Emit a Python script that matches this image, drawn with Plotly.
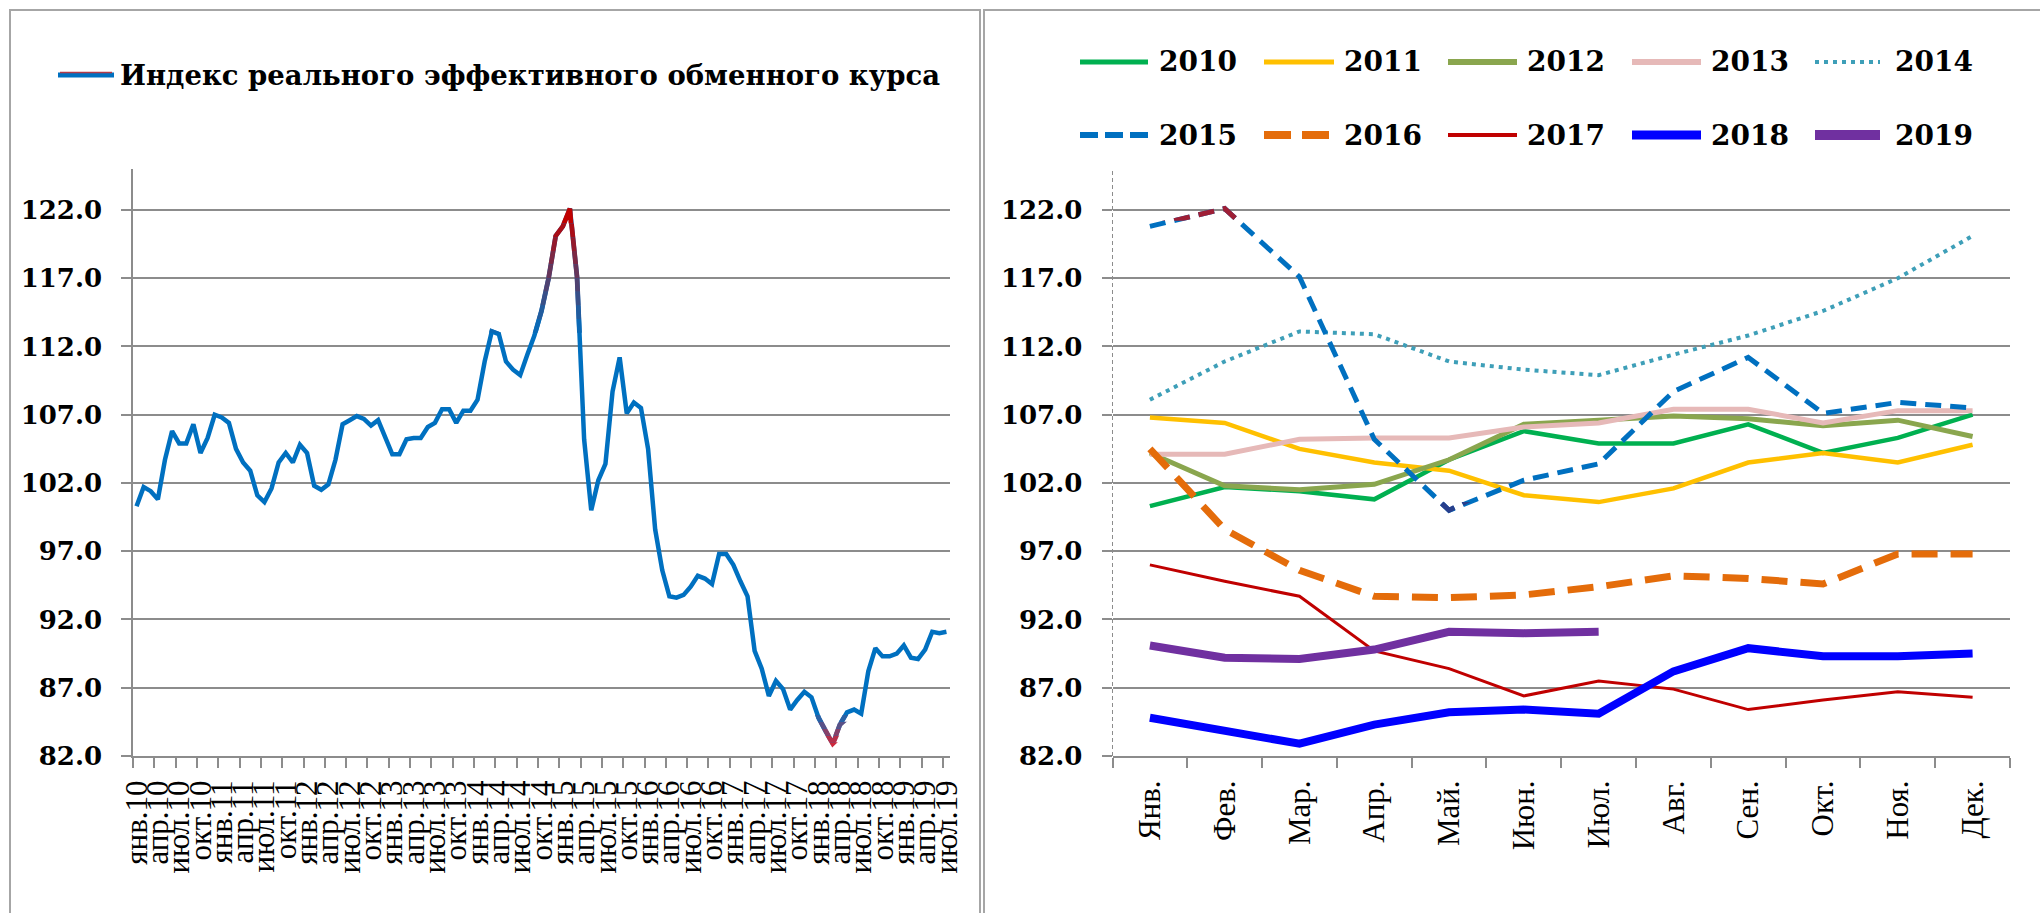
import plotly.graph_objects as go

# ---------------- data ----------------
years = [2010, 2011, 2012, 2013, 2014, 2015, 2016, 2017, 2018, 2019]
months_lower = ["янв.", "фев.", "мар.", "апр.", "май.", "июн.", "июл.", "авг.", "сен.", "окт.", "ноя.", "дек."]
months_title = ["Янв.", "Фев.", "Мар.", "Апр.", "Май.", "Июн.", "Июл.", "Авг.", "Сен.", "Окт.", "Ноя.", "Дек."]
y_ticks = [82, 87, 92, 97, 102, 107, 112, 117, 122]
index_title = "Индекс реального эффективного обменного курса"

rer_2010 = [100.3, 101.7, 101.4, 100.8, 103.7, 105.8, 104.9, 104.9, 106.3, 104.2, 105.3, 107.0]
rer_2011 = [106.8, 106.4, 104.5, 103.5, 102.9, 101.1, 100.6, 101.6, 103.5, 104.2, 103.5, 104.8]
rer_2012 = [104.2, 101.8, 101.5, 101.9, 103.7, 106.3, 106.6, 106.9, 106.7, 106.2, 106.6, 105.4]
rer_2013 = [104.1, 104.1, 105.2, 105.3, 105.3, 106.1, 106.4, 107.4, 107.4, 106.4, 107.3, 107.3]
rer_2014 = [108.1, 110.9, 113.1, 112.9, 110.9, 110.3, 109.9, 111.4, 112.8, 114.6, 117.0, 120.1]
rer_2015 = [120.8, 122.1, 117.1, 105.2, 100.0, 102.2, 103.4, 108.7, 111.2, 107.1, 107.9, 107.5]
rer_2016 = [104.5, 98.6, 95.6, 93.7, 93.6, 93.8, 94.4, 95.2, 95.0, 94.6, 96.8, 96.8]
rer_2017 = [96.0, 94.8, 93.7, 89.7, 88.4, 86.4, 87.5, 86.9, 85.4, 86.1, 86.7, 86.3]
rer_2018 = [84.8, 83.8, 82.9, 84.3, 85.2, 85.4, 85.1, 88.2, 89.9, 89.3, 89.3, 89.5]
rer_2019 = [90.1, 89.2, 89.1, 89.8, 91.1, 91.0, 91.1]

series = {2010: rer_2010, 2011: rer_2011, 2012: rer_2012, 2013: rer_2013, 2014: rer_2014,
          2015: rer_2015, 2016: rer_2016, 2017: rer_2017, 2018: rer_2018, 2019: rer_2019}

# ---------------- styles ----------------
styles = {
    2010: dict(color="#00B050", width=4.5),
    2011: dict(color="#FFC000", width=4.5),
    2012: dict(color="#8AA64E", width=5),
    2013: dict(color="#E6B9B8", width=5),
    2014: dict(color="#3E9FB8", width=4, dash="4px,5px"),
    2015: dict(color="#0070C0", width=5, dash="16px,9px"),
    2016: dict(color="#E46C0A", width=7, dash="26px,13px"),
    2017: dict(color="#C00000", width=3),
    2018: dict(color="#0000FF", width=8),
    2019: dict(color="#7030A0", width=8),
}
legend_styles = {
    2010: dict(color="#00B050", width=5),
    2011: dict(color="#FFC000", width=5),
    2012: dict(color="#8AA64E", width=6),
    2013: dict(color="#E6B9B8", width=6),
    2014: dict(color="#3E9FB8", width=4, dash="4px,5px"),
    2015: dict(color="#0070C0", width=6, dash="18px,7px"),
    2016: dict(color="#E46C0A", width=8, dash="27px,11px"),
    2017: dict(color="#C00000", width=4),
    2018: dict(color="#0000FF", width=9),
    2019: dict(color="#7030A0", width=10),
}

W, H = 2040, 913
GRID = "#8C8C8C"
BLUE = (0, 112, 192)
RED_HI = (192, 0, 0)
RED_LO = (205, 40, 60)


def px(x):
    return x / W


def py(y):
    return 1 - y / H


def mix(c0, c1, t):
    t = max(0.0, min(1.0, t))
    return "rgb(%d,%d,%d)" % tuple(round(a + (b - a) * t) for a, b in zip(c0, c1))


Y_MIN, Y_MAX = 82, 125
y_dom = [py(756), py(169)]
left_dom = [px(133), px(950)]
right_dom = [px(1112.5), px(2010)]

# full monthly sequence for the left chart
all_vals = []
all_cats = []
for yr in years:
    for m, v in zip(months_lower, series[yr]):
        all_vals.append(v)
        all_cats.append(f"{m}{str(yr)[2:]}")

fig = go.Figure()

# main line (left)
fig.add_trace(go.Scatter(x=all_cats, y=all_vals, mode="lines", name=index_title,
                         line=dict(color="#0070C0", width=4.5), xaxis="x", yaxis="y",
                         showlegend=False, hoverinfo="skip"))

layout_axes = {}


def band_dom(v0, v1):
    d0, d1 = y_dom
    return [d0 + (v0 - Y_MIN) / (Y_MAX - Y_MIN) * (d1 - d0),
            d0 + (v1 - Y_MIN) / (Y_MAX - Y_MIN) * (d1 - d0)]


axis_no = [3]


def add_band(x, y, xa, v0, v1, line):
    n = axis_no[0]
    axis_no[0] += 1
    layout_axes[f"yaxis{n}"] = dict(domain=band_dom(v0, v1), range=[v0, v1], visible=False,
                                    anchor=xa, fixedrange=True, automargin=False)
    fig.add_trace(go.Scatter(x=x, y=y, mode="lines", line=line, xaxis=xa, yaxis=f"y{n}",
                             showlegend=False, hoverinfo="skip"))


# vertical colour gradient of the left line (red at the extremes)
hi_edges = [113, 114, 115, 116, 117, 118, 119, 120, 121, 125]
for a, b in zip(hi_edges[:-1], hi_edges[1:]):
    c = (a + min(b, 122)) / 2
    t = 1.0 if b > 121 else (c - 113) / (121.5 - 113)
    add_band(all_cats, all_vals, "x", a, b, dict(color=mix(BLUE, RED_HI, t), width=4.8))
lo_edges = [82, 83, 83.5, 84, 84.5, 85]
for a, b in zip(lo_edges[:-1], lo_edges[1:]):
    c = (a + b) / 2
    t = 1.0 if a == 82 else (85.2 - c) / (85.2 - 83.0)
    add_band(all_cats, all_vals, "x", a, b, dict(color=mix(BLUE, RED_LO, t), width=4.8))

# right chart: one line per year
for yr in years:
    vals = series[yr]
    fig.add_trace(go.Scatter(x=months_title[:len(vals)], y=vals, mode="lines", name=str(yr),
                             line=styles[yr], xaxis="x2", yaxis="y2", showlegend=False,
                             hoverinfo="skip"))

# highlighted extremes of 2015 (max dark red, min navy)
add_band(months_title, rer_2015, "x2", 121.2, 125, dict(styles[2015], color="#9E1F36"))
add_band(months_title, rer_2015, "x2", 98, 100.6, dict(styles[2015], color="#283F8C"))

tick_font = dict(family="DejaVu Serif", size=26, color="black", weight="bold")
cat_font = dict(family="Liberation Serif", size=31, color="black")

common_y = dict(domain=y_dom, range=[Y_MIN, Y_MAX], tickmode="array", tickvals=y_ticks,
                tickformat=".1f", showgrid=True, gridcolor=GRID, gridwidth=2, zeroline=False,
                ticks="outside", ticklen=10, tickwidth=2, tickcolor=GRID, tickfont=tick_font,
                ticklabelstandoff=14, fixedrange=True, automargin=False)
common_x = dict(type="category", tickson="boundaries", ticks="outside", ticklen=10,
                tickwidth=2, tickcolor=GRID, showline=True, linecolor=GRID, linewidth=2,
                showgrid=False, zeroline=False, tickangle=-90, tickfont=cat_font,
                ticklabelstandoff=10, fixedrange=True, automargin=False)

fig.update_layout(
    template="none",
    width=W, height=H,
    margin=dict(l=0, r=0, t=0, b=0, pad=0, autoexpand=False),
    paper_bgcolor="white", plot_bgcolor="rgba(0,0,0,0)",
    showlegend=False,
    font=dict(family="DejaVu Serif", color="black"),
    xaxis=dict(common_x, domain=left_dom, anchor="y", categoryorder="array",
               categoryarray=all_cats, range=[-0.5, len(all_cats) - 0.5], dtick=3),
    yaxis=dict(common_y, anchor="x", showline=True, linecolor=GRID, linewidth=1.5),
    xaxis2=dict(common_x, domain=right_dom, anchor="y2", categoryorder="array",
                categoryarray=months_title, range=[-0.5, 11.5], dtick=1),
    yaxis2=dict(common_y, anchor="x2", showline=False),
    **layout_axes,
)

shapes = []
# panel borders
shapes.append(dict(type="rect", xref="paper", yref="paper", x0=px(10), x1=px(980),
                   y0=py(930), y1=py(10), line=dict(color="#A6A6A6", width=2), layer="below"))
shapes.append(dict(type="rect", xref="paper", yref="paper", x0=px(984), x1=px(2060),
                   y0=py(930), y1=py(10), line=dict(color="#A6A6A6", width=2), layer="below"))
# dashed value axis of the right chart
shapes.append(dict(type="line", xref="x2 domain", yref="y2 domain", x0=0, x1=0, y0=0, y1=1,
                   line=dict(color="#8C8C8C", width=1, dash="4px,3px")))

# left legend sample (gradient-like line)
shapes.append(dict(type="line", xref="paper", yref="paper", x0=px(58), x1=px(114),
                   y0=py(75), y1=py(75), line=dict(color="#0070C0", width=5)))
shapes.append(dict(type="line", xref="paper", yref="paper", x0=px(60), x1=px(112),
                   y0=py(72.6), y1=py(72.6), line=dict(color="#B23A48", width=1.5)))

annotations = [dict(text=index_title, x=px(118), y=py(75), xref="paper", yref="paper",
                    xanchor="left", yanchor="middle", showarrow=False,
                    font=dict(family="DejaVu Serif", size=27.5, color="black", weight="bold"))]

# right legend (two rows of five)
leg_line_x = [(1080, 1148), (1264, 1334), (1448, 1517), (1632, 1701), (1815, 1880)]
leg_text_x = [1157, 1342, 1525, 1709, 1893]
leg_row_y = [62, 135]
for k, yr in enumerate(years):
    row, col = divmod(k, 5)
    ly = leg_row_y[row]
    x0, x1 = leg_line_x[col]
    shapes.append(dict(type="line", xref="paper", yref="paper", x0=px(x0), x1=px(x1),
                       y0=py(ly), y1=py(ly), line=legend_styles[yr]))
    annotations.append(dict(text=str(yr), x=px(leg_text_x[col]), y=py(ly), xref="paper",
                            yref="paper", xanchor="left", yanchor="middle", showarrow=False,
                            font=dict(family="DejaVu Serif", size=28, color="black",
                                      weight="bold")))

fig.update_layout(shapes=shapes, annotations=annotations)

fig.write_html("out.html", config={"displayModeBar": False},
               post_script="document.body.style.margin='0';document.body.style.overflow='hidden';")
